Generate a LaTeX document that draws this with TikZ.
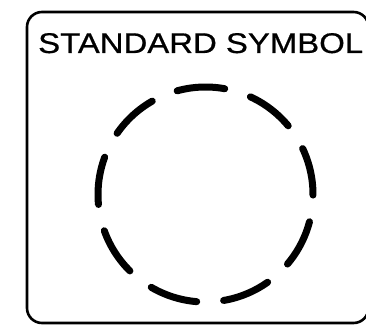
\documentclass[tikz,border=0pt]{standalone}
\usepackage{fontspec}
\setmainfont{Liberation Sans}
\newfontfamily\titlefont[FakeBold=0.6]{Liberation Sans}
\usetikzlibrary{calc}
\begin{document}
\begin{tikzpicture}[x=1pt,y=-1pt,
  frame/.style={draw=black,line width=2.6pt,rounded corners=15pt},
  dashseg/.style={draw=black,line width=7pt,line cap=round},
  title/.style={inner sep=0pt,anchor=base west,font=\titlefont\fontsize{28.5}{28.5}\selectfont}]
\useasboundingbox (0,0) rectangle (366,326);
\clip (0,0) rectangle (366,326);
\draw[frame] (27,12) rectangle (368.5,323);
\node[title] (t) at (38,53) {\scalebox{1.155}[1]{STANDARD SYMBOL}};
\coordinate (c) at (205.5,194.5);
\foreach \a in {0,1,...,8}{
  \pgfmathsetmacro{\s}{-92.5-40*\a-12.8}
  \pgfmathsetmacro{\e}{-92.5-40*\a+12.8}
  \draw[dashseg] ($(c)+(\s:107.5)$) arc[start angle=\s,end angle=\e,radius=107.5];
}
\end{tikzpicture}
\end{document}
